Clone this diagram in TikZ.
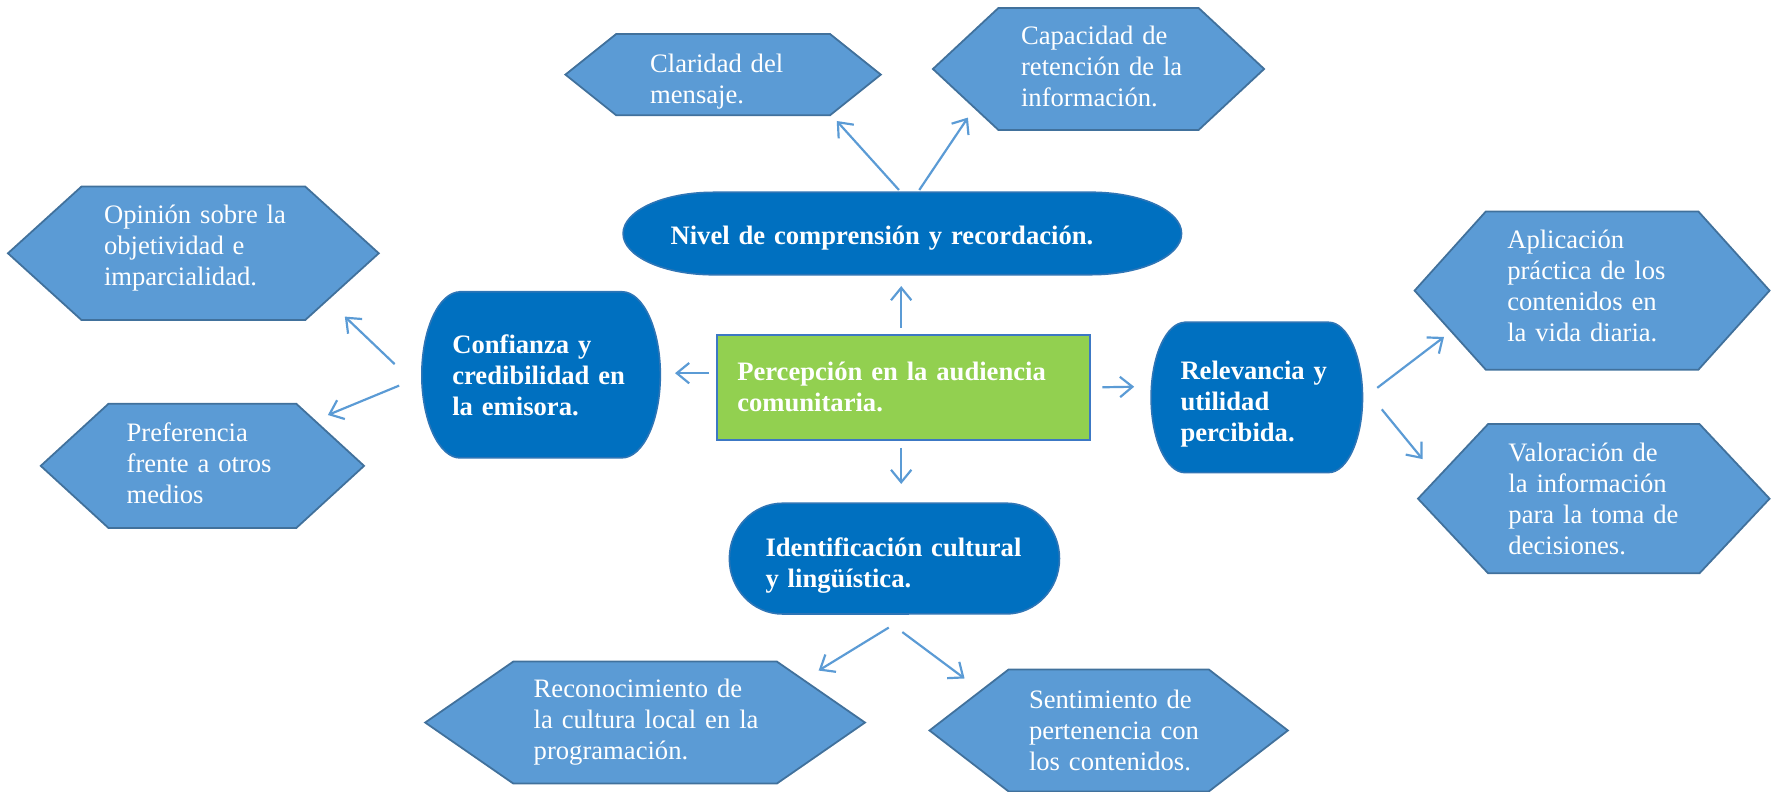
\documentclass[tikz,border=0pt]{standalone}
\usepackage{fontspec}
\setmainfont{Liberation Serif}
\usetikzlibrary{arrows.meta, backgrounds}
\definecolor{hexblue}{HTML}{5B9BD5}
\definecolor{hexline}{HTML}{41719C}
\definecolor{darkblue}{HTML}{0070C0}
\definecolor{darkline}{HTML}{2E75B6}
\definecolor{leafgreen}{HTML}{92D050}
\definecolor{boxline}{HTML}{3C78C4}
\tikzset{
  box/.style={outer sep=0pt, inner sep=0pt, align=left, text=white, font=\fontsize{13.4}{15.6}\selectfont},
  hexa/.style={box},
  term/.style={box, font=\fontsize{13.4}{15.6}\selectfont\bfseries},
  arr/.style={draw=hexblue, line width=1.1pt, -{Straight Barb[length=0.22cm, width=0.36cm]}},
}

\begin{document}
\begin{tikzpicture}[x=0.02cm, y=-0.02cm]
    \useasboundingbox (0,0) rectangle (1568,700);

    \node[term, draw=boxline, fill=leafgreen, line width=1.2pt, minimum width=6.6cm, minimum height=1.86cm, text width=5.88cm] (perc) at (799,342.5) {Percepción en la audiencia\\ comunitaria.};

    \node[term, minimum width=9.88cm, minimum height=1.46cm, text width=8.2cm] (nivel) at (798,210.5) {Nivel de comprensión y recordación.};
    \node[term, minimum width=4.22cm, minimum height=2.94cm, text width=3.14cm] (conf) at (478.5,331.5) {Confianza y\\ \mbox{credibilidad en}\\ la emisora.};
    \node[term, minimum width=3.74cm, minimum height=2.66cm, text width=2.7cm] (rel) at (1111.5,357.5) {Relevancia y\\ utilidad\\ percibida.};
    \node[term, minimum width=5.84cm, minimum height=1.96cm, text width=4.56cm] (iden) at (791,500.5) {\mbox{Identificación cultural}\\ y lingüística.};

    \node[hexa, minimum width=5.58cm, minimum height=1.44cm, text width=2.58cm] (clar) at (639.5,72.5) {Claridad del\\ mensaje.};
    \node[hexa, minimum width=5.86cm, minimum height=2.16cm, text width=2.74cm] (capa) at (971.5,59) {Capacidad de\\ \mbox{retención de la}\\ información.};
    \node[hexa, minimum width=6.56cm, minimum height=2.36cm, text width=3.16cm] (opin) at (171,219) {\mbox{Opinión sobre la}\\ objetividad e\\ imparcialidad.};
    \node[hexa, minimum width=5.72cm, minimum height=2.2cm, text width=2.68cm] (pref) at (179,410) {Preferencia\\ frente a otros\\ medios};
    \node[hexa, minimum width=6.28cm, minimum height=2.8cm, text width=3.0cm] (apl) at (1408,253) {Aplicación\\ práctica de los\\ contenidos en\\ la vida diaria.};
    \node[hexa, minimum width=6.22cm, minimum height=2.64cm, text width=3.02cm] (val) at (1409.5,441) {Valoración de\\ la información\\ \mbox{para la toma de}\\ decisiones.};
    \node[hexa, minimum width=7.78cm, minimum height=2.16cm, text width=3.94cm] (reco) at (570.5,639) {Reconocimiento de\\ \mbox{la cultura local en la}\\ programación.};
    \node[hexa, minimum width=6.34cm, minimum height=2.16cm, text width=2.82cm] (sent) at (980.5,646) {\mbox{Sentimiento de}\\ \mbox{pertenencia con}\\ \mbox{los contenidos.}};

    \begin{scope}[on background layer]
        \foreach \n/\d/\o in {clar/45/-6.5, capa/58/2, opin/65/5, pref/60/2, apl/63/4, val/62/0, reco/78/0, sent/70/0}
            \draw[fill=hexblue, draw=hexline, line width=0.9pt] ([shift={(0,\o)}]\n.west) -- ([shift={(\d,\o)}]\n.north west) -- ([shift={(-\d,\o)}]\n.north east) -- ([shift={(0,\o)}]\n.east) -- ([shift={(-\d,\o)}]\n.south east) -- ([shift={(\d,\o)}]\n.south west) -- cycle;
        \foreach \n/\r/\h/\o in {nivel/80/73/-4, conf/34/147/0, rel/30/133/-6, iden/47/98/-6.5}
            \draw[fill=darkblue, draw=darkline, line width=0.8pt] ([shift={(\r,\o)}]\n.north west) -- ([shift={(-\r,\o)}]\n.north east) arc[start angle=90, end angle=-90, x radius=\r*0.02cm, y radius=\h*0.01cm] -- ([shift={(\r,\o)}]\n.south west) arc[start angle=270, end angle=90, x radius=\r*0.02cm, y radius=\h*0.01cm] -- cycle;
    \end{scope}

    \draw[arr] ([shift={(-2,-6)}]perc.north) -- ([shift={(-1,6)}]nivel.south);
    \draw[arr] ([shift={(-7,-12.5)}]perc.west) -- ([shift={(13,-1.5)}]conf.east);
    \draw[arr] ([shift={(11,0)}]perc.east) -- ([shift={(-15,-15.5)}]rel.west);
    \draw[arr] ([shift={(-2,7)}]perc.south) -- ([shift={(6,-23.5)}]iden.north);

    \draw[arr] ([shift={(-3,-6)}]nivel.north) -- ([shift={(100.5,-1.5)}]clar.south);
    \draw[arr] ([shift={(15,-6)}]nivel.north) -- ([shift={(-115.5,-9)}]capa.south);
    \draw[arr] ([shift={(-24,-9.5)}]conf.west) -- ([shift={(-30,2)}]opin.south east);
    \draw[arr] ([shift={(-20,9.5)}]conf.west) -- ([shift={(-32,12)}]pref.north east);
    \draw[arr] ([shift={(13,-14.5)}]rel.east) -- ([shift={(26,-25)}]apl.south west);
    \draw[arr] ([shift={(17,4.5)}]rel.east) -- ([shift={(4,31)}]val.north west);
    \draw[arr] ([shift={(-5,5.5)}]iden.south) -- ([shift={(-41,8)}]reco.north east);
    \draw[arr] ([shift={(7,9.5)}]iden.south) -- ([shift={(31,8)}]sent.north west);
\end{tikzpicture}
\end{document}
